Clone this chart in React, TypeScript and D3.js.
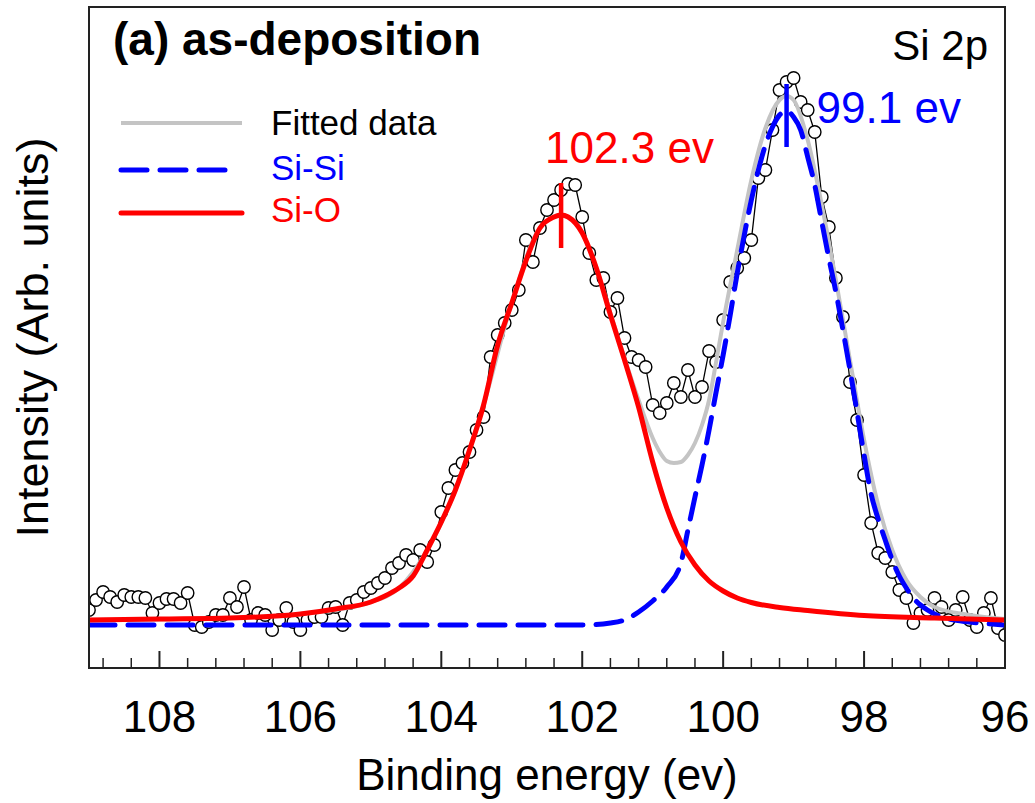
import React from 'react';
import * as d3 from 'd3';

// Measured Si 2p spectrum: [binding energy (eV), intensity (arb. units)]
const measured: [number, number][] = [
  [109.0, 30], [108.9, 50], [108.8, 66], [108.7, 56], [108.6, 46], [108.5, 60], [108.4, 56], [108.3, 56], [108.2, 54], [108.1, 24],
  [108.0, 44], [107.9, 52], [107.8, 52], [107.7, 44], [107.6, 64], [107.5, 0], [107.4, -4], [107.3, 6], [107.2, 20], [107.1, 20],
  [107.0, 54], [106.9, 36], [106.8, 76], [106.7, 10], [106.6, 24], [106.5, 20], [106.4, -10], [106.3, 10], [106.2, 34], [106.1, 6],
  [106.0, -10], [105.9, 10], [105.8, 16], [105.7, 16], [105.6, 34], [105.5, 36], [105.4, 0], [105.3, 44], [105.2, 50], [105.1, 66],
  [105.0, 74], [104.9, 84], [104.8, 94], [104.7, 114], [104.6, 124], [104.5, 140], [104.4, 130], [104.3, 150], [104.2, 126], [104.1, 160],
  [104.0, 226], [103.9, 274], [103.8, 310], [103.7, 324], [103.6, 346], [103.5, 390], [103.4, 416], [103.3, 536], [103.2, 580], [103.1, 604],
  [103.0, 630], [102.9, 670], [102.8, 770], [102.7, 726], [102.6, 794], [102.5, 830], [102.4, 850], [102.3, 870], [102.2, 882], [102.1, 880],
  [102.0, 816], [101.9, 744], [101.8, 690], [101.7, 694], [101.6, 626], [101.5, 654], [101.4, 574], [101.3, 536], [101.2, 530], [101.1, 516],
  [101.0, 440], [100.9, 424], [100.8, 444], [100.7, 484], [100.6, 456], [100.5, 510], [100.4, 456], [100.3, 476], [100.2, 548], [100.1, 526],
  [100.0, 610], [99.9, 686], [99.8, 714], [99.7, 734], [99.6, 770], [99.5, 894], [99.4, 910], [99.3, 990], [99.2, 1070], [99.1, 1086],
  [99.0, 1094], [98.9, 1046], [98.8, 1030], [98.7, 986], [98.6, 856], [98.5, 796], [98.4, 694], [98.3, 616], [98.2, 486], [98.1, 410],
  [98.0, 300], [97.9, 204], [97.8, 144], [97.7, 134], [97.6, 106], [97.5, 70], [97.4, 54], [97.3, 4], [97.2, 24], [97.1, 30],
  [97.0, 54], [96.9, 36], [96.8, 10], [96.7, 30], [96.6, 56], [96.5, 10], [96.4, -4], [96.3, 24], [96.2, 54], [96.1, -6], [96.0, -20],
];

// Fitted envelope (grey)
const fittedData: [number, number][] = [
  [109.0, 10], [107.0, 14], [106.0, 22], [105.0, 46], [104.6, 74], [104.2, 150], [103.8, 270], [103.4, 440],
  [103.0, 644], [102.6, 794], [102.3, 820], [102.0, 784], [101.8, 714], [101.6, 624], [101.4, 534], [101.2, 450],
  [101.0, 374], [100.9, 346], [100.8, 328], [100.7, 324], [100.6, 326], [100.5, 340], [100.4, 364], [100.3, 400],
  [100.2, 450], [100.1, 526], [100.0, 606], [99.8, 750], [99.6, 890], [99.4, 994], [99.2, 1050], [99.1, 1058],
  [99.0, 1050], [98.8, 970], [98.6, 840], [98.4, 690], [98.2, 530], [98.0, 370], [97.8, 240], [97.6, 150],
  [97.4, 90], [97.2, 56], [97.0, 36], [96.5, 20], [96.0, 12],
];

// Si-Si component (blue dashed)
const siSiFit: [number, number][] = [
  [109.0, 0], [102.0, 0], [101.6, 4], [101.4, 10], [101.2, 26], [101.0, 48], [100.8, 76], [100.6, 124],
  [100.5, 190], [100.4, 256], [100.3, 320], [100.2, 390], [100.1, 466], [100.0, 540], [99.9, 620], [99.8, 704],
  [99.7, 780], [99.6, 850], [99.5, 910], [99.4, 960], [99.3, 996], [99.2, 1020], [99.1, 1028], [99.0, 1016],
  [98.9, 990], [98.8, 936], [98.7, 880], [98.6, 806], [98.5, 734], [98.4, 666], [98.3, 590], [98.2, 510],
  [98.1, 426], [98.0, 340], [97.9, 262], [97.8, 212], [97.7, 170], [97.6, 130], [97.5, 98], [97.4, 74],
  [97.3, 54], [97.2, 40], [97.1, 30], [97.0, 22], [96.8, 12], [96.5, 6], [96.0, 0],
];

// Si-O component (red)
const siOFit: [number, number][] = [
  [109.0, 10], [108.0, 12], [107.0, 14], [106.0, 22], [105.5, 32], [105.0, 46], [104.8, 58], [104.6, 74],
  [104.4, 98], [104.2, 150], [104.0, 206], [103.8, 270], [103.6, 350], [103.4, 440], [103.2, 560], [103.0, 644],
  [102.8, 728], [102.6, 794], [102.4, 816], [102.3, 820], [102.2, 816], [102.0, 784], [101.8, 714], [101.6, 620],
  [101.4, 530], [101.2, 436], [101.0, 326], [100.8, 234], [100.6, 166], [100.4, 120], [100.2, 88], [100.0, 68],
  [99.8, 54], [99.6, 45], [99.2, 35], [98.8, 29], [98.0, 19], [97.0, 14], [96.0, 10],
];

const peakPositions = [102.3, 99.1];
const peakLabels = ['102.3 ev', '99.1 ev'];

const xMajorTicks = [108, 106, 104, 102, 100, 98, 96];
const xMinorTicks = [
  108.8, 108.4, 107.6, 107.2, 106.8, 106.4, 105.6, 105.2, 104.8, 104.4, 103.6, 103.2, 102.8,
  102.4, 101.6, 101.2, 100.8, 100.4, 99.6, 99.2, 98.8, 98.4, 97.6, 97.2, 96.8, 96.4,
];

const legendItems = ['Fitted data', 'Si-Si', 'Si-O'];

const FONT = '"Liberation Sans", Arial, Helvetica, sans-serif';
const RED = '#ff0000';
const BLUE = '#0000ff';
const GREY = '#c4c4c4';

export default function App() {
  const left = 89, right = 1005, top = 7, bottom = 668;
  const x = d3.scaleLinear().domain([109, 96]).range([left, right]);
  const y = d3.scaleLinear().domain([-86, 1236]).range([bottom, top]);

  const line = d3.line<[number, number]>()
    .x((d) => x(d[0]))
    .y((d) => y(d[1]))
    .curve(d3.curveMonotoneX);
  const rawLine = d3.line<[number, number]>().x((d) => x(d[0])).y((d) => y(d[1]));

  const redPeak = d3.max(siOFit, (d) => d[1]) as number;
  const bluePeak = d3.max(siSiFit, (d) => d[1]) as number;

  return (
    <svg width={1035} height={803} style={{ position: 'absolute', left: 0, top: 0, background: '#fff' }}>
      <rect x={0} y={0} width={1035} height={803} fill="#fff" />
      <defs>
        <clipPath id="plotClip">
          <rect x={left} y={top} width={right - left} height={bottom - top} />
        </clipPath>
      </defs>

      {/* measured data */}
      <g clipPath="url(#plotClip)">
        <path d={rawLine(measured) || ''} fill="none" stroke="#000" strokeWidth={1.3} />
        {measured.map((d, i) => (
          <circle key={i} cx={x(d[0])} cy={y(d[1])} r={6.2} fill="#fff" stroke="#000" strokeWidth={1.4} />
        ))}
        <path d={line(fittedData) || ''} fill="none" stroke={GREY} strokeWidth={4} />
        <path d={line(siSiFit) || ''} fill="none" stroke={BLUE} strokeWidth={5} strokeDasharray="26 13" strokeLinecap="round" />
        <path d={line(siOFit) || ''} fill="none" stroke={RED} strokeWidth={5} />
      </g>

      {/* peak markers */}
      <line x1={x(peakPositions[0])} x2={x(peakPositions[0])} y1={y(redPeak) - 32} y2={y(redPeak) + 33} stroke={RED} strokeWidth={4.5} />
      <line x1={x(peakPositions[1])} x2={x(peakPositions[1])} y1={y(bluePeak) - 27} y2={y(bluePeak) + 36} stroke={BLUE} strokeWidth={4.5} />
      <text x={x(peakPositions[0]) - 16} y={y(redPeak) - 52} fill={RED} fontFamily={FONT} fontSize={44}>{peakLabels[0]}</text>
      <text x={x(peakPositions[1]) + 30} y={y(bluePeak) + 12} fill={BLUE} fontFamily={FONT} fontSize={44}>{peakLabels[1]}</text>

      {/* frame */}
      <rect x={left} y={top} width={right - left} height={bottom - top} fill="none" stroke="#222" strokeWidth={2} />

      {/* x ticks */}
      {xMajorTicks.map((t) => (
        <line key={'M' + t} x1={x(t)} x2={x(t)} y1={bottom} y2={bottom - 17} stroke="#222" strokeWidth={2} />
      ))}
      {xMinorTicks.map((t) => (
        <line key={'m' + t} x1={x(t)} x2={x(t)} y1={bottom} y2={bottom - 10} stroke="#222" strokeWidth={1.5} />
      ))}
      {xMajorTicks.map((t) => (
        <text key={'l' + t} x={x(t)} y={732} textAnchor="middle" fontFamily={FONT} fontSize={44} fill="#000">{t}</text>
      ))}

      {/* axis titles */}
      <text x={(left + right) / 2} y={790} textAnchor="middle" fontFamily={FONT} fontSize={44} fill="#000">Binding energy (ev)</text>
      <text transform={`translate(48, ${(top + bottom) / 2}) rotate(-90)`} textAnchor="middle" fontFamily={FONT} fontSize={45} fill="#000">Intensity (Arb. units)</text>

      {/* titles */}
      <text x={113} y={55} fontFamily={FONT} fontSize={46} fontWeight="bold" fill="#000">(a) as-deposition</text>
      <text x={988} y={60} textAnchor="end" fontFamily={FONT} fontSize={42} fill="#000">Si 2p</text>

      {/* legend */}
      <line x1={121} x2={242} y1={123} y2={123} stroke={GREY} strokeWidth={4} />
      <text x={271} y={135} fontFamily={FONT} fontSize={35} fill="#000">{legendItems[0]}</text>
      <line x1={121} x2={230} y1={170} y2={170} stroke={BLUE} strokeWidth={5} strokeDasharray="26 13" strokeLinecap="round" />
      <text x={271} y={180} fontFamily={FONT} fontSize={35} fill={BLUE}>{legendItems[1]}</text>
      <line x1={121} x2={242} y1={213} y2={213} stroke={RED} strokeWidth={5} strokeLinecap="round" />
      <text x={271} y={222} fontFamily={FONT} fontSize={35} fill={RED}>{legendItems[2]}</text>
    </svg>
  );
}
